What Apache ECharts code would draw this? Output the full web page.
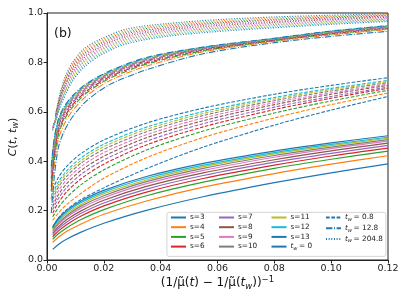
<!DOCTYPE html>
<html><head><meta charset="utf-8">
<script src="https://cdn.jsdelivr.net/npm/echarts@6/dist/echarts.min.js"></script>
<style>html,body{margin:0;padding:0;background:#fff}#c{width:407px;height:305px}</style>
</head><body><div id="c"></div>
<script>
// ---------- data ----------
const sLabels = ['s=3','s=4','s=5','s=6','s=7','s=8','s=9','s=10','s=11','s=12','s=13'];
const twLabels = ['tw0','tw0.8','tw12.8','tw204.8'];
const twTexts = ['0','0.8','12.8','204.8'];
const xTicks = [0, 0.02, 0.04, 0.06, 0.08, 0.10, 0.12];
const yTicks = [0, 0.2, 0.4, 0.6, 0.8, 1.0];

// tw = 0 (solid)
const xSolid = [0.002, 0.004, 0.007, 0.012, 0.02, 0.035, 0.055, 0.08, 0.1, 0.12];
const solid_s3  = [0.043,0.063,0.085,0.113,0.149,0.201,0.256,0.313,0.353,0.389];
const solid_s4  = [0.072,0.092,0.116,0.146,0.185,0.239,0.295,0.350,0.388,0.422];
const solid_s5  = [0.084,0.106,0.131,0.164,0.204,0.260,0.315,0.371,0.408,0.441];
const solid_s6  = [0.094,0.117,0.144,0.178,0.219,0.275,0.330,0.384,0.421,0.453];
const solid_s7  = [0.101,0.126,0.154,0.189,0.231,0.287,0.342,0.396,0.432,0.464];
const solid_s8  = [0.108,0.134,0.164,0.199,0.242,0.298,0.353,0.406,0.442,0.473];
const solid_s9  = [0.115,0.143,0.174,0.210,0.252,0.309,0.363,0.416,0.451,0.481];
const solid_s10 = [0.120,0.149,0.180,0.218,0.260,0.317,0.371,0.423,0.457,0.487];
const solid_s11 = [0.125,0.156,0.188,0.225,0.268,0.324,0.378,0.430,0.463,0.493];
const solid_s12 = [0.130,0.162,0.195,0.233,0.275,0.331,0.384,0.435,0.468,0.497];
const solid_s13 = [0.135,0.168,0.201,0.239,0.282,0.338,0.391,0.441,0.474,0.503];

// tw = 0.8 (dashed)
const xDashed = [0.002, 0.004, 0.007, 0.012, 0.02, 0.035, 0.055, 0.08, 0.1, 0.12];
const dashed_s3  = [0.130,0.170,0.205,0.245,0.292,0.370,0.457,0.546,0.607,0.662];
const dashed_s4  = [0.160,0.190,0.225,0.270,0.331,0.414,0.496,0.575,0.629,0.676];
const dashed_s5  = [0.175,0.212,0.254,0.305,0.365,0.445,0.522,0.595,0.644,0.687];
const dashed_s6  = [0.190,0.232,0.277,0.329,0.388,0.466,0.539,0.609,0.655,0.695];
const dashed_s7  = [0.204,0.249,0.294,0.347,0.405,0.481,0.552,0.619,0.662,0.700];
const dashed_s8  = [0.217,0.264,0.310,0.363,0.420,0.495,0.564,0.629,0.671,0.707];
const dashed_s9  = [0.231,0.279,0.326,0.378,0.435,0.507,0.575,0.637,0.677,0.712];
const dashed_s10 = [0.245,0.294,0.340,0.392,0.448,0.519,0.585,0.645,0.684,0.718];
const dashed_s11 = [0.256,0.305,0.352,0.403,0.459,0.529,0.593,0.652,0.690,0.722];
const dashed_s12 = [0.267,0.316,0.362,0.414,0.469,0.538,0.601,0.658,0.695,0.727];
const dashed_s13 = [0.284,0.334,0.380,0.431,0.486,0.554,0.615,0.671,0.707,0.738];

// tw = 12.8 (dash-dot)
const xDashDot = [0.0015, 0.0025, 0.004, 0.006, 0.009, 0.014, 0.022, 0.035, 0.055, 0.08, 0.1, 0.12];
const dashdot_s3  = [0.190,0.330,0.455,0.520,0.580,0.645,0.710,0.770,0.835,0.880,0.905,0.926];
const dashdot_s4  = [0.245,0.376,0.488,0.549,0.605,0.665,0.726,0.785,0.843,0.885,0.911,0.933];
const dashdot_s5  = [0.277,0.403,0.507,0.566,0.619,0.677,0.735,0.793,0.847,0.888,0.915,0.936];
const dashdot_s6  = [0.297,0.420,0.520,0.576,0.628,0.684,0.741,0.798,0.850,0.890,0.917,0.939];
const dashdot_s7  = [0.315,0.435,0.531,0.586,0.636,0.691,0.746,0.803,0.853,0.892,0.919,0.941];
const dashdot_s8  = [0.330,0.448,0.540,0.594,0.643,0.697,0.751,0.807,0.855,0.893,0.921,0.943];
const dashdot_s9  = [0.343,0.459,0.548,0.601,0.649,0.701,0.754,0.810,0.857,0.895,0.923,0.945];
const dashdot_s10 = [0.353,0.468,0.554,0.606,0.653,0.705,0.757,0.813,0.858,0.895,0.924,0.946];
const dashdot_s11 = [0.363,0.476,0.560,0.611,0.658,0.709,0.760,0.816,0.860,0.896,0.925,0.947];
const dashdot_s12 = [0.370,0.482,0.564,0.615,0.660,0.711,0.762,0.817,0.861,0.897,0.926,0.948];
const dashdot_s13 = [0.380,0.490,0.570,0.620,0.665,0.715,0.765,0.820,0.862,0.898,0.927,0.949];

// tw = 204.8 (dotted)
const xDotted = [0.002, 0.003, 0.0045, 0.0065, 0.009, 0.013, 0.019, 0.028, 0.042, 0.06, 0.08, 0.1, 0.12];
const dotted_s3  = [null,0.590,0.670,0.745,0.800,0.855,0.895,0.935,0.957,0.973,0.984,0.991,0.997];
const dotted_s4  = [null,0.587,0.665,0.738,0.793,0.848,0.889,0.929,0.952,0.968,0.980,0.987,0.994];
const dotted_s5  = [null,0.584,0.659,0.730,0.785,0.840,0.882,0.923,0.947,0.963,0.975,0.984,0.991];
const dotted_s6  = [null,0.581,0.654,0.723,0.778,0.833,0.876,0.917,0.941,0.959,0.971,0.980,0.988];
const dotted_s7  = [null,0.578,0.648,0.715,0.770,0.825,0.869,0.911,0.936,0.954,0.966,0.976,0.985];
const dotted_s8  = [0.540,0.575,0.643,0.708,0.763,0.818,0.863,0.905,0.931,0.949,0.962,0.973,0.982];
const dotted_s9  = [0.537,0.572,0.637,0.700,0.755,0.810,0.856,0.899,0.926,0.944,0.958,0.969,0.978];
const dotted_s10 = [0.534,0.569,0.632,0.693,0.748,0.803,0.850,0.893,0.921,0.939,0.953,0.965,0.975];
const dotted_s11 = [0.531,0.566,0.626,0.685,0.740,0.795,0.843,0.887,0.915,0.935,0.949,0.961,0.972];
const dotted_s12 = [0.528,0.563,0.621,0.678,0.733,0.788,0.837,0.881,0.910,0.930,0.944,0.958,0.969];
const dotted_s13 = [0.525,0.560,0.615,0.670,0.725,0.780,0.830,0.875,0.905,0.925,0.940,0.954,0.966];

// ---------- build ----------
const colors = ['#1f77b4','#ff7f0e','#2ca02c','#d62728','#9467bd','#8c564b','#e377c2','#7f7f7f','#bcbd22','#17becf','#1f77b4'];
const groups = [
  {x: xSolid, ys: [solid_s3,solid_s4,solid_s5,solid_s6,solid_s7,solid_s8,solid_s9,solid_s10,solid_s11,solid_s12,solid_s13], type: 'solid', w: 1.2},
  {x: xDashed, ys: [dashed_s3,dashed_s4,dashed_s5,dashed_s6,dashed_s7,dashed_s8,dashed_s9,dashed_s10,dashed_s11,dashed_s12,dashed_s13], type: [3.7,1.6], w: 1.1},
  {x: xDashDot, ys: [dashdot_s3,dashdot_s4,dashdot_s5,dashdot_s6,dashdot_s7,dashdot_s8,dashdot_s9,dashdot_s10,dashdot_s11,dashdot_s12,dashdot_s13], type: [6.4,1.6,1,1.6], w: 1.1},
  {x: xDotted, ys: [dotted_s3,dotted_s4,dotted_s5,dotted_s6,dotted_s7,dotted_s8,dotted_s9,dotted_s10,dotted_s11,dotted_s12,dotted_s13], type: [1,1.65], w: 1.1}
];
const series = [];
groups.forEach(g => {
  g.ys.forEach((ys, i) => {
    const data = [];
    ys.forEach((v, k) => { if (v !== null) data.push([g.x[k], v]); });
    series.push({
      name: sLabels[i], type: 'line', data: data, showSymbol: false, symbol: 'none',
      smooth: 0.3, silent: true,
      lineStyle: {color: colors[i], width: g.w, type: g.type},
      itemStyle: {color: colors[i], opacity: 0}
    });
  });
});
const twTypes = ['solid', [3.7,1.6], [6.4,1.6,1,1.6], [1,1.65]];
twLabels.forEach((n, i) => {
  series.push({name: n, type: 'line', data: [], symbol: 'none',
    lineStyle: {color: '#1f77b4', width: 1.2, type: twTypes[i]}, itemStyle: {color: '#1f77b4', opacity: 0}});
});

const FONT = 'DejaVu Sans';
const legRich = {
  n: {fontSize: 7.3, fontFamily: FONT, color: '#222', lineHeight: 9},
  i: {fontSize: 7.3, fontFamily: FONT, fontStyle: 'italic', color: '#222', lineHeight: 9},
  sub: {fontSize: 5.2, fontFamily: FONT, fontStyle: 'italic', color: '#222', lineHeight: 9, verticalAlign: 'bottom', padding: [3,0,0,0]}
};
function legFmt(name) {
  const k = twLabels.indexOf(name);
  if (k >= 0) return '{i|t}{sub|w}{n|\u2009= ' + twTexts[k] + '}';
  return '{n|' + name + '}';
}
function mkLegend(left, names) {
  return {
    show: true, orient: 'vertical', left: left, top: 214, padding: 0,
    itemWidth: 15, itemHeight: 8, itemGap: 2.7, selectedMode: false,
    data: names, formatter: legFmt, z: 6,
    textStyle: {fontSize: 7.3, fontFamily: FONT, color: '#222', rich: legRich, padding: [0,0,0,-1]}
  };
}

const chart = echarts.init(document.getElementById('c'), null, {renderer: 'canvas'});
chart.setOption({
  animation: false,
  backgroundColor: '#fff',
  grid: {left: 47, top: 13, width: 341, height: 247, show: true, borderColor: '#222', borderWidth: 1, containLabel: false},
  xAxis: {
    type: 'value', min: xTicks[0], max: xTicks[xTicks.length-1], interval: 0.02,
    axisLine: {show: true, onZero: false, lineStyle: {color: '#222', width: 1}},
    axisTick: {show: true, inside: false, length: 3.5, lineStyle: {color: '#222'}},
    splitLine: {show: false},
    axisLabel: {fontSize: 9.5, fontFamily: FONT, color: '#222', margin: 4, formatter: v => v.toFixed(2)}
  },
  yAxis: {
    type: 'value', min: yTicks[0], max: yTicks[yTicks.length-1], interval: 0.2,
    axisLine: {show: true, onZero: false, lineStyle: {color: '#222', width: 1}},
    axisTick: {show: true, inside: false, length: 3.5, lineStyle: {color: '#222'}},
    splitLine: {show: false},
    axisLabel: {fontSize: 9.5, fontFamily: FONT, color: '#222', margin: 4, formatter: v => v.toFixed(1)}
  },
  legend: [
    mkLegend(170, sLabels.slice(0,4)),
    mkLegend(218, sLabels.slice(4,8)),
    mkLegend(270.5, [sLabels[8], sLabels[9], sLabels[10], twLabels[0]]),
    mkLegend(325, twLabels.slice(1))
  ],
  graphic: [
    {type: 'rect', left: 166.5, top: 212, shape: {width: 219, height: 44, r: 2}, z: 5,
     style: {fill: 'rgba(255,255,255,0.85)', stroke: '#cccccc', lineWidth: 0.8}},
    {type: 'text', left: 54, top: 27, z: 10,
     style: {text: '(b)', fontSize: 12.5, fontFamily: FONT, fill: '#111'}},
    {type: 'text', x: 217.5, y: 283, z: 10,
     style: {
       text: '{a|(1/\u03BC\u0303(}{it|t}{a|) \u2212 1/\u03BC\u0303(}{it|t}{sub|w}{a|))}{sup|\u22121}',
       align: 'center', verticalAlign: 'middle',
       rich: {
         a: {fontSize: 12, fontFamily: FONT, fill: '#111', lineHeight: 16},
         it: {fontSize: 12, fontFamily: FONT, fontStyle: 'italic', fill: '#111', lineHeight: 16},
         sub: {fontSize: 8.5, fontFamily: FONT, fontStyle: 'italic', fill: '#111', lineHeight: 16, verticalAlign: 'bottom', padding: [5,0,0,0]},
         sup: {fontSize: 8.5, fontFamily: FONT, fill: '#111', lineHeight: 16, verticalAlign: 'top', padding: [0,0,6,0]}
       }
     }},
    {type: 'text', x: 13, y: 137, rotation: Math.PI/2, z: 10,
     style: {
       text: '{it|C}{a|(}{it|t}{a|, }{it|t}{sub|w}{a|)}',
       align: 'center', verticalAlign: 'middle',
       rich: {
         a: {fontSize: 11, fontFamily: FONT, fill: '#111', lineHeight: 14},
         it: {fontSize: 11, fontFamily: FONT, fontStyle: 'italic', fill: '#111', lineHeight: 14},
         sub: {fontSize: 8, fontFamily: FONT, fontStyle: 'italic', fill: '#111', lineHeight: 14, verticalAlign: 'bottom', padding: [4,0,0,0]}
       }
     }}
  ],
  series: series
});
</script>
</body></html>
